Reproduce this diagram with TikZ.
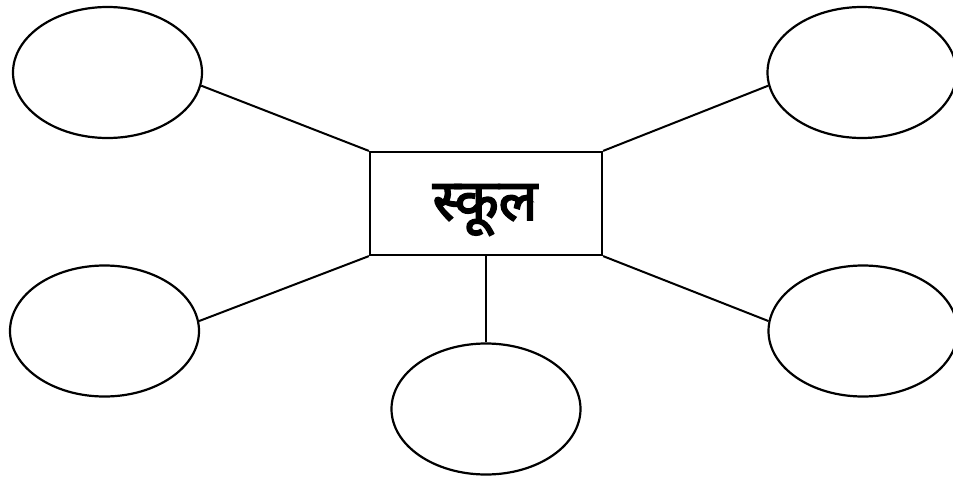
\documentclass[tikz,border=0pt]{standalone}
\usepackage{fontspec}
\newfontfamily\devfont[Script=Devanagari,FakeBold=3]{Noto Sans}
\usetikzlibrary{shapes.geometric}
\begin{document}
\begin{tikzpicture}[x=1pt,y=-1pt,
  bubble/.style={draw, ellipse, line width=2.2pt, inner sep=0pt, minimum width=189pt, minimum height=131pt},
  centerbox/.style={draw, rectangle, line width=2.2pt, inner sep=0pt, minimum width=232pt, minimum height=103pt},
  link/.style={line width=2pt}]
\useasboundingbox (0,0) rectangle (953,480);
\fill[white] (0,0) rectangle (953,480);
\node[centerbox] (box) at (486,203.5) {};
\node (lbl) at (485,210) {\devfont\fontsize{57}{64}\selectfont स्कूल};
\node[bubble] (tl) at (107.5,72.5) {};
\node[bubble] (tr) at (862,72.5) {};
\node[bubble] (bl) at (104.5,331) {};
\node[bubble] (br) at (863,331) {};
\node[bubble] (bc) at (486,409) {};
\draw[link] (tl.-8) -- (box.north west);
\draw[link] (tr.-172) -- (box.north east);
\draw[link] (bl.6) -- (box.south west);
\draw[link] (br.174) -- (box.south east);
\draw[link] (box.south) -- (bc.north);
\end{tikzpicture}
\end{document}
